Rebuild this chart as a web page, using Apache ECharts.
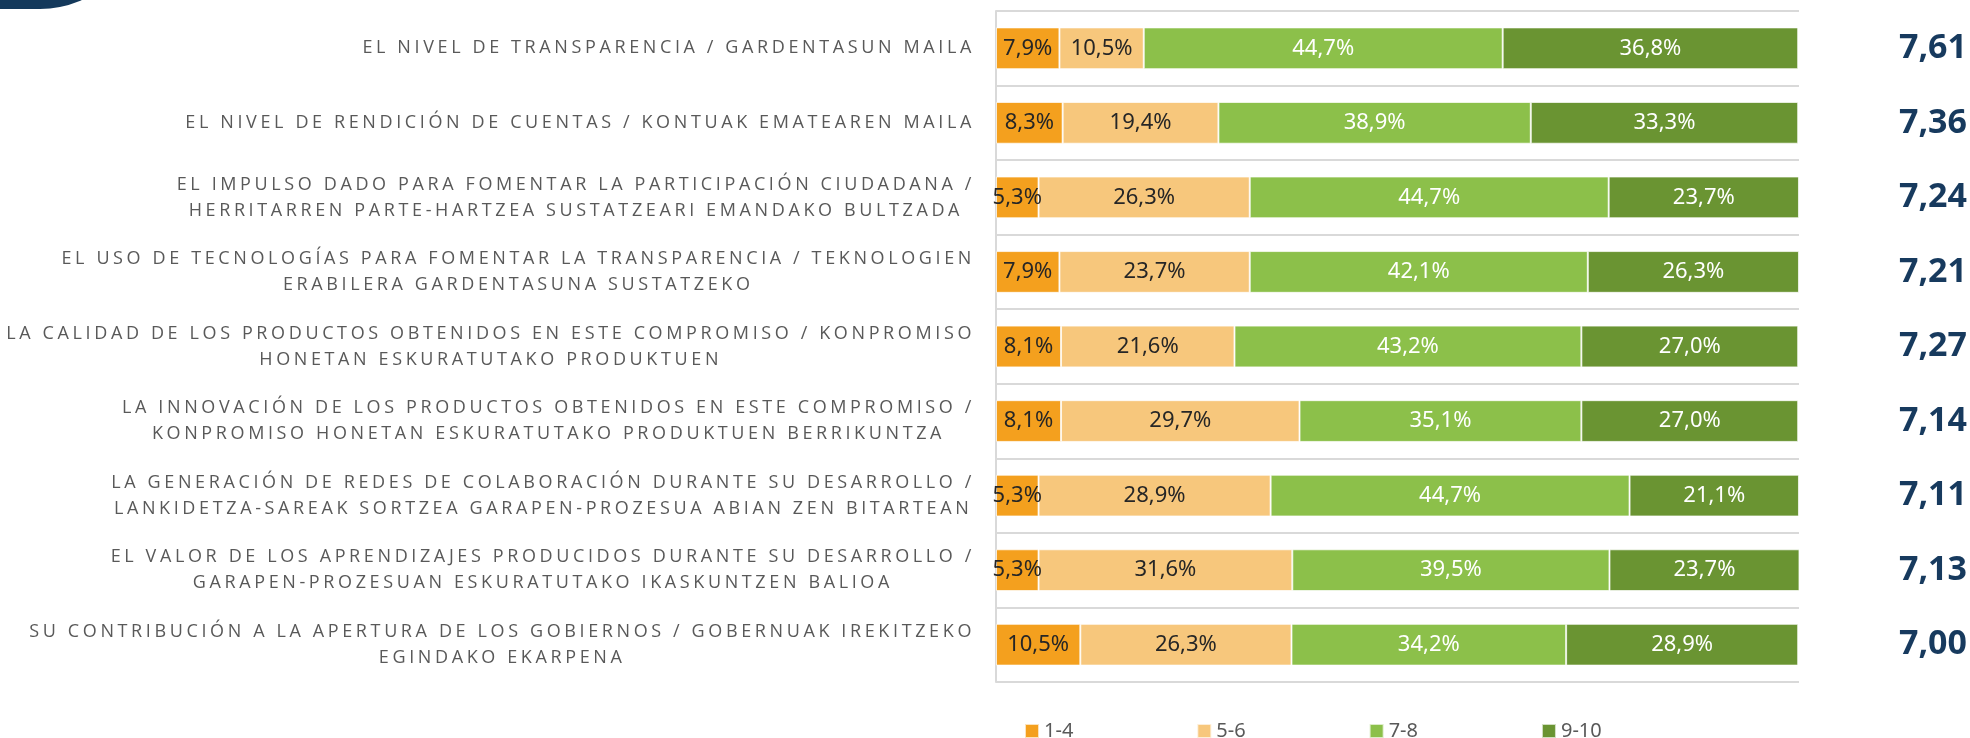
<!DOCTYPE html>
<html>
<head>
<meta charset="utf-8">
<script src="https://cdn.jsdelivr.net/npm/echarts@6/dist/echarts.min.js"></script>
<style>html,body{margin:0;padding:0;background:#fff}#c{width:1970px;height:738px}</style>
</head>
<body>
<div id="c"></div>
<script>
const categories = [
  'EL NIVEL DE TRANSPARENCIA / GARDENTASUN MAILA',
  'EL NIVEL DE RENDICIÓN DE CUENTAS / KONTUAK EMATEAREN MAILA',
  'EL IMPULSO DADO PARA FOMENTAR LA PARTICIPACIÓN CIUDADANA /\nHERRITARREN PARTE-HARTZEA SUSTATZEARI EMANDAKO BULTZADA',
  'EL USO DE TECNOLOGÍAS PARA FOMENTAR LA TRANSPARENCIA / TEKNOLOGIEN\nERABILERA GARDENTASUNA SUSTATZEKO',
  'LA CALIDAD DE LOS PRODUCTOS OBTENIDOS EN ESTE COMPROMISO / KONPROMISO\nHONETAN ESKURATUTAKO PRODUKTUEN',
  'LA INNOVACIÓN DE LOS PRODUCTOS OBTENIDOS EN ESTE COMPROMISO /\nKONPROMISO HONETAN ESKURATUTAKO PRODUKTUEN BERRIKUNTZA',
  'LA GENERACIÓN DE REDES DE COLABORACIÓN DURANTE SU DESARROLLO /\nLANKIDETZA-SAREAK SORTZEA GARAPEN-PROZESUA ABIAN ZEN BITARTEAN',
  'EL VALOR DE LOS APRENDIZAJES PRODUCIDOS DURANTE SU DESARROLLO /\nGARAPEN-PROZESUAN ESKURATUTAKO IKASKUNTZEN BALIOA',
  'SU CONTRIBUCIÓN A LA APERTURA DE LOS GOBIERNOS / GOBERNUAK IREKITZEKO\nEGINDAKO EKARPENA'
];
const seriesNames = ['1-4', '5-6', '7-8', '9-10'];
const values14  = [7.9, 8.3, 5.3, 7.9, 8.1, 8.1, 5.3, 5.3, 10.5];
const values56  = [10.5, 19.4, 26.3, 23.7, 21.6, 29.7, 28.9, 31.6, 26.3];
const values78  = [44.7, 38.9, 44.7, 42.1, 43.2, 35.1, 44.7, 39.5, 34.2];
const values910 = [36.8, 33.3, 23.7, 26.3, 27.0, 27.0, 21.1, 23.7, 28.9];
const means     = [7.61, 7.36, 7.24, 7.21, 7.27, 7.14, 7.11, 7.13, 7.00];

// ---- letter spacing for the category labels (Open Sans only) ----
const LABEL_FAMILY = 'Open Sans';
const LABEL_SIZE = 18;
let LS = 3.3;
(function () {
  try {
    const c = document.createElement('canvas').getContext('2d');
    c.font = LABEL_SIZE + 'px "' + LABEL_FAMILY + '"';
    const t = categories[0];
    const w0 = c.measureText(t).width;
    const v = (609 - w0) / (t.length - 1);
    if (v > 0 && v < 8) LS = v;
  } catch (e) {}
})();
(function () {
  const proto = CanvasRenderingContext2D.prototype;
  if (!('letterSpacing' in proto)) return;
  const origFill = proto.fillText, origMeasure = proto.measureText, origStroke = proto.strokeText;
  function apply(ctx) {
    const want = (ctx.font && ctx.font.indexOf(LABEL_FAMILY) >= 0) ? (LS.toFixed(2) + 'px') : '0px';
    if (ctx.letterSpacing !== want) ctx.letterSpacing = want;
  }
  proto.fillText = function () { apply(this); return origFill.apply(this, arguments); };
  proto.strokeText = function () { apply(this); return origStroke.apply(this, arguments); };
  proto.measureText = function () { apply(this); return origMeasure.apply(this, arguments); };
})();

const colors = ['#F4A01E', '#F7C77C', '#8CC04A', '#6A9432'];
const labelColors = ['#262626', '#262626', '#ffffff', '#ffffff'];
const seriesData = [values14, values56, values78, values910];
const pct = v => v.toFixed(1).replace('.', ',') + '%';
const fmtMean = v => v.toFixed(2).replace('.', ',');

const chart = echarts.init(document.getElementById('c'), null, { renderer: 'canvas' });
chart.setOption({
  animation: false,
  backgroundColor: '#ffffff',
  color: colors,
  graphic: [{
    type: 'rect', silent: true,
    shape: { x: -300, y: -391, width: 442, height: 400, r: [0, 0, 102, 0] },
    style: { fill: '#14395b' }
  }],
  grid: { left: 996, right: 170, top: 11, bottom: 56, containLabel: false },
  legend: {
    data: seriesNames,
    left: 1024, top: 721, padding: 0,
    icon: 'rect', itemWidth: 14, itemHeight: 14, itemGap: 123,
    textStyle: { fontFamily: 'Noto Sans', fontSize: 20, color: '#595959' }
  },
  xAxis: { type: 'value', min: 0, max: 100, show: false },
  yAxis: [{
    type: 'category', data: categories, inverse: true,
    axisTick: { show: false },
    axisLine: { show: true, lineStyle: { color: '#d9d9d9', width: 2 } },
    splitLine: { show: true, interval: 0, lineStyle: { color: '#d9d9d9', width: 2 } },
    axisLabel: {
      interval: 0, margin: 21, align: 'right',
      fontFamily: LABEL_FAMILY, fontSize: LABEL_SIZE, color: '#595959', lineHeight: 26,
      formatter: v => v.split('\n').map(l => '{c|' + l + '}').join('\n'),
      rich: { c: { align: 'center', fontFamily: LABEL_FAMILY, fontSize: LABEL_SIZE, color: '#595959', lineHeight: 26 } }
    }
  }, {
    type: 'category', data: means.map(fmtMean), inverse: true, position: 'right',
    axisLine: { show: false }, axisTick: { show: false }, splitLine: { show: false },
    axisLabel: { interval: 0, margin: 134, align: 'center', fontFamily: 'Noto Sans', fontWeight: 'bold', fontSize: 34, color: '#173a5e' }
  }],
  series: seriesNames.map((name, i) => ({
    name, type: 'bar', stack: 'total', yAxisIndex: 0,
    barCategoryGap: '44%',
    data: seriesData[i],
    itemStyle: { color: colors[i], borderColor: 'rgba(255,255,255,0.7)', borderWidth: 1 },
    label: {
      show: true, position: 'inside', formatter: p => pct(p.value),
      fontFamily: 'Noto Sans', fontSize: 22, color: labelColors[i]
    }
  }))
});
</script>
</body>
</html>
